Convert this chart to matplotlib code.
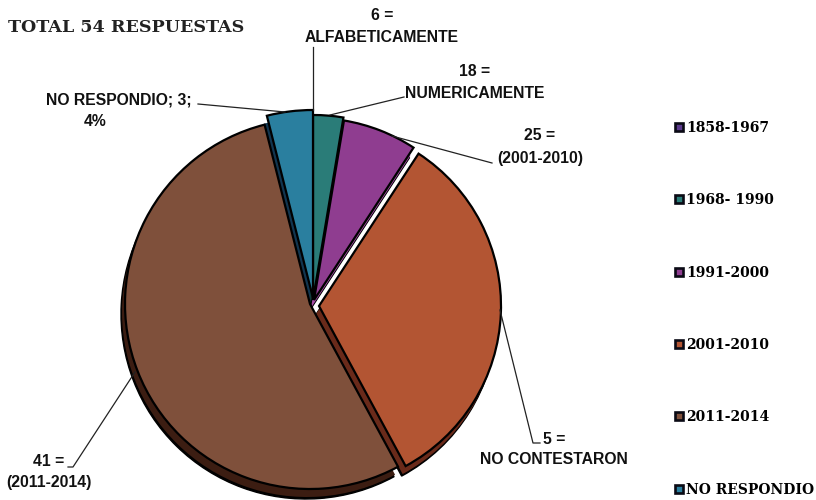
import matplotlib
matplotlib.use('Agg')
import matplotlib.pyplot as plt
from matplotlib.lines import Line2D

periodos = ['1858-1967', '1968- 1990', '1991-2000', '2001-2010', '2011-2014', 'NO RESPONDIO']
valores = [0, 2, 5, 25, 41, 3]

colores = ['#5b3a8c', '#2a7c78', '#8f3d90', '#b35533', '#7f503b', '#2a7f9f']
colores_lado = ['#2a1a44', '#123c3a', '#a94fa8', '#6a2a1a', '#3c1d12', '#123650']

# centro y radio de cada sector, en pixeles
centros = [(313, 300), (313, 300), (314, 300), (319, 306), (310, 304), (313, 298)]
radios = [185, 185, 182, 182, 185, 188]

SERIF = 'DejaVu Serif'
SANS = 'Liberation Sans'


def dibuja_pie(ax, cols, dx=0, dy=0, borde='black', lw=1.6):
    # el eje y esta invertido: counterclock=True se ve en sentido horario
    wedges, _ = ax.pie(valores, colors=cols, startangle=-90, counterclock=True,
                       wedgeprops={'edgecolor': borde, 'linewidth': lw})
    for w, c, r in zip(wedges, centros, radios):
        w.set_center((c[0] + dx, c[1] + dy))
        w.set_radius(r)
    return wedges


fig = plt.figure(figsize=(8.16, 5), dpi=100)
ax = fig.add_axes([0, 0, 1, 1])

# grosor del pastel
dibuja_pie(ax, ['black'] * 6, dx=-4, dy=10, lw=1)
dibuja_pie(ax, colores_lado, dx=-3, dy=8, borde='none', lw=0)
dibuja_pie(ax, colores)

ax.set_xlim(0, 816)
ax.set_ylim(500, 0)
ax.axis('off')

# lineas guia
guias = [
    ([313, 313], [47, 110]),
    ([404, 330], [97, 115]),
    ([492, 392], [163, 136]),
    ([198, 285], [104, 112]),
    ([500, 533, 540], [310, 443, 443]),
    ([135, 73, 68], [372, 467, 467]),
]
for xs, ys in guias:
    ax.plot(xs, ys, color='#222222', lw=0.9)

etiquetas = [
    (382, 16, '6 ='), (382, 38, 'ALFABETICAMENTE'),
    (475, 72, '18 ='), (475, 94, 'NUMERICAMENTE'),
    (540, 135, '25 ='), (540, 158, '(2001-2010)'),
    (119, 100, 'NO RESPONDIO; 3;'), (95, 122, '4%'),
    (554, 440, '5 ='), (554, 460, 'NO CONTESTARON'),
    (49, 462, '41 ='), (49, 483, '(2011-2014)'),
]
for x, y, t in etiquetas:
    ax.text(x, y, t, ha='center', va='center', fontsize=11.3, fontweight='bold',
            family=SANS, color='#111111')

ax.text(8, 27, 'TOTAL 54 RESPUESTAS', ha='left', va='center', fontsize=12.6,
        fontweight='bold', family=SERIF, color='#222222')

handles = [Line2D([], [], linestyle='none', marker='s', markersize=6, markerfacecolor=c,
                  markeredgecolor='#0a0a14', markeredgewidth=1.9) for c in colores]
ax.legend(handles, periodos, loc='upper left', bbox_to_anchor=(671 / 816, 1 - 121 / 500),
          frameon=False, labelspacing=4.2, handletextpad=0.0, handlelength=1.1,
          borderpad=0, borderaxespad=0,
          prop={'family': SERIF, 'weight': 'bold', 'size': 10})

fig.savefig('out.png', dpi=100)
